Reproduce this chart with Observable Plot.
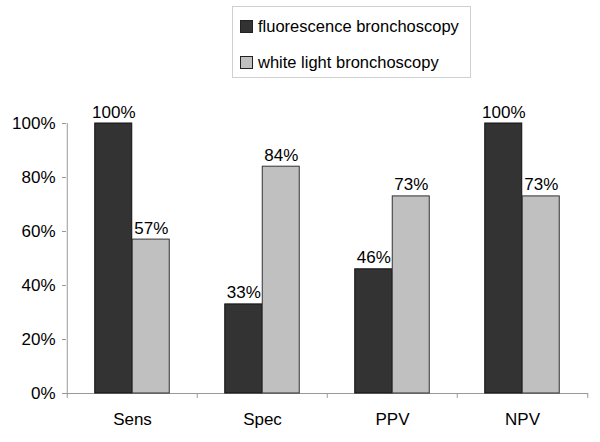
<!DOCTYPE html>
<html>
<head>
<meta charset="utf-8">
<script src="https://cdn.jsdelivr.net/npm/d3@7"></script>
<script src="https://cdn.jsdelivr.net/npm/@observablehq/plot@0.6"></script>
<style>
  html, body { margin: 0; padding: 0; background: #fff; }
  #wrap { position: relative; width: 600px; height: 442px; font-family: "Liberation Sans", Arial, sans-serif; }
  #legend { position: absolute; left: 232px; top: 6px; width: 239px; height: 72px; border: 1px solid #d0d0d0; box-sizing: border-box; font-size: 16.5px; color: #000; }
  .row { position: absolute; left: 7px; display: flex; align-items: center; }
  .sw { width: 11px; height: 11px; border: 1px solid #222; margin-right: 5px; }
  #chart { position: absolute; left: 0; top: 0; }
</style>
</head>
<body>
<div id="wrap">
  <div id="chart"></div>
  <div id="legend"></div>
</div>
<script>
const categories = ["Sens", "Spec", "PPV", "NPV"];
const seriesNames = ["fluorescence bronchoscopy", "white light bronchoscopy"];
const fluorescence = [100, 33, 46, 100];
const whiteLight = [57, 84, 73, 73];
const yTicks = [0, 20, 40, 60, 80, 100];
const colors = ["#333333", "#c0c0c0"];

const fData = categories.map((c, i) => ({cat: c, value: fluorescence[i]}));
const wData = categories.map((c, i) => ({cat: c, value: whiteLight[i]}));

const half = 65.25; // half band width in px
const font = "Liberation Sans, Arial, sans-serif";

const chart = Plot.plot({
  width: 600,
  height: 442,
  marginTop: 123,
  marginBottom: 49,
  marginLeft: 66,
  marginRight: 12,
  style: {fontFamily: font, fontSize: "17px", color: "#000", background: "transparent"},
  x: {domain: categories, padding: 0, label: null},
  y: {domain: [0, 100], label: null},
  marks: [
    Plot.ruleY([0], {stroke: "#999"}),
    Plot.ruleX([categories[0]], {y1: -1.8, y2: 100, dx: -half, stroke: "#999"}),
    Plot.ruleX(categories.slice(1), {y1: -1.8, y2: 0, dx: -half, stroke: "#999"}),
    Plot.ruleX([categories[categories.length - 1]], {y1: -1.8, y2: 0, dx: half, stroke: "#999"}),
    Plot.barY(fData, {x: "cat", y: "value", fill: colors[0], stroke: "#111", strokeWidth: 1, insetLeft: 27.75, insetRight: half}),
    Plot.barY(wData, {x: "cat", y: "value", fill: colors[1], stroke: "#333", strokeWidth: 1, insetLeft: half, insetRight: 27.75}),
    Plot.text(fData, {x: "cat", y: "value", text: d => d.value + "%", dx: -18.75, dy: -6, lineAnchor: "bottom", fontSize: 17, fill: "#000"}),
    Plot.text(wData, {x: "cat", y: "value", text: d => d.value + "%", dx: 18.75, dy: -6, lineAnchor: "bottom", fontSize: 17, fill: "#000"}),
    Plot.axisY(yTicks, {tickFormat: d => d + "%", tickSize: 4, tickPadding: 7, stroke: "#999", fontSize: 17, label: null}),
    Plot.axisX({tickSize: 0, tickPadding: 19, fontSize: 17, label: null})
  ]
});
document.getElementById("chart").appendChild(chart);

const legend = document.getElementById("legend");
seriesNames.forEach((name, i) => {
  const row = document.createElement("div");
  row.className = "row";
  row.style.top = (i === 0 ? 10 : 46) + "px";
  const sw = document.createElement("div");
  sw.className = "sw";
  sw.style.background = colors[i];
  const t = document.createElement("span");
  t.textContent = name;
  row.appendChild(sw);
  row.appendChild(t);
  legend.appendChild(row);
});
</script>
</body>
</html>
